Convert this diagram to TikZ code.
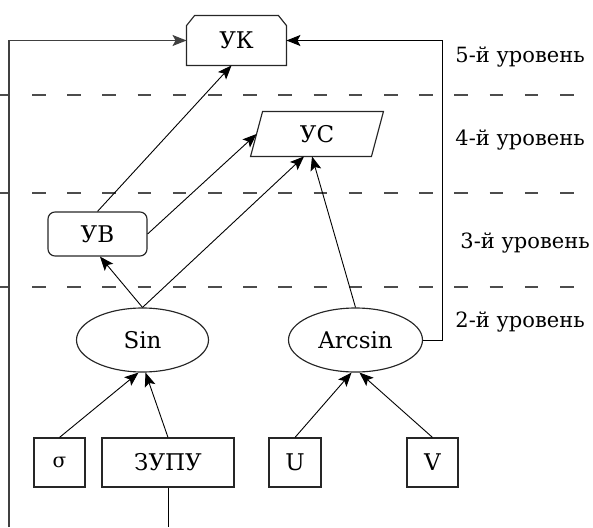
\documentclass[tikz,border=0pt]{standalone}
\usepackage{fontspec}
\setmainfont{DejaVu Serif}
\usetikzlibrary{arrows.meta,shapes.geometric,calc}
\begin{document}
\begin{tikzpicture}[x=1pt,y=-1pt,
  line width=0.9pt,
  arr/.style={-{Stealth[length=14pt,width=11pt,inset=3pt]}},
  boxtxt/.style={font=\fontsize{23}{26}\selectfont},
  outline/.style={line width=1.15pt, draw=black!85},
  plainbox/.style={draw, outline, rectangle, boxtxt, inner sep=0pt, minimum height=49pt},
  hidden/.style={rectangle, boxtxt, inner sep=0pt},
  oval/.style={draw, outline, ellipse, boxtxt, inner sep=0pt, minimum height=64pt},
  levellabel/.style={anchor=west, font=\fontsize{21}{24}\selectfont, inner sep=0pt},
  levelline/.style={draw=black!70, line width=1.1pt, dash pattern=on 13.5pt off 21.7pt, dash phase=3.2pt},
  loopline/.style={draw=black!75, line width=1.3pt}]
\useasboundingbox (0,0) rectangle (593,527);

% level separators
\draw[levelline] (0,95) -- (593,95);
\draw[levelline] (0,193) -- (593,193);
\draw[levelline] (0,287) -- (593,287);

% nodes
\node[hidden, minimum width=99pt, minimum height=49pt] (uk) at (236.5,40.5) {УК};
\draw[outline] ($(uk.south west)$) -- (uk.south east) -- ($(uk.north east)+(0,10)$)
  -- ($(uk.north east)+(-8,0)$) -- ($(uk.north west)+(8,0)$)
  -- ($(uk.north west)+(0,10)$) -- cycle;

\node[hidden, minimum width=132pt, minimum height=44pt] (us) at (317,134) {УС};
\draw[outline] (us.south west) -- ($(us.north west)+(12,0)$) -- (us.north east)
  -- ($(us.south east)+(-12,0)$) -- cycle;

\node[draw, outline, rectangle, rounded corners=7pt, boxtxt, inner sep=0pt,
  minimum width=99pt, minimum height=44pt] (uv) at (97.5,234) {УВ};

\node[oval, minimum width=132pt] (sin) at (142.5,340) {Sin};
\node[oval, minimum width=134pt] (arcsin) at (355.5,340) {Arcsin};

\node[plainbox, minimum width=51pt, font=\fontsize{20}{23}\selectfont] (sigma) at (59.5,462.5) {σ};
\node[plainbox, minimum width=132pt] (zupu) at (168,462.5) {ЗУПУ};
\node[plainbox, minimum width=52pt] (u) at (295,462.5) {U};
\node[plainbox, minimum width=51pt] (v) at (432.5,462.5) {V};

% level labels
\node[levellabel] (l5) at (455,57) {5-й уровень};
\node[levellabel] (l4) at (455,140) {4-й уровень};
\node[levellabel] (l3) at (460,243) {3-й уровень};
\node[levellabel] (l2) at (455,322) {2-й уровень};

% connectors
\draw[arr] (uv.north) -- ($(uk.south)+(-5,0)$);
\draw[arr] (uv.east) -- ($(us.west)+(6,0)$);
\draw[arr] (sin.north) -- ($(us.south)+(-13,0)$);
\draw[arr] (arcsin.north) -- ($(us.south)+(-5,0)$);
\draw[arr] (sin.north) -- ($(uv.south)+(2.5,0)$);
\draw[arr] (sigma.north) -- ($(sin.south)+(-4,0)$);
\draw[arr] (zupu.north) -- ($(sin.south)+(3,0)$);
\draw[arr] (u.north) -- ($(arcsin.south)+(-4,0)$);
\draw[arr] (v.north) -- ($(arcsin.south)+(4,0)$);

% feedback lines
\coordinate (zb) at (168,527);
\coordinate (lb) at (9,527);
\draw (zupu.south) -- (zb);
\draw[loopline, arr] (lb) |- (uk.west);
\draw[arr] (arcsin.east) -- ++(19,0) |- (uk.east);
\end{tikzpicture}
\end{document}
